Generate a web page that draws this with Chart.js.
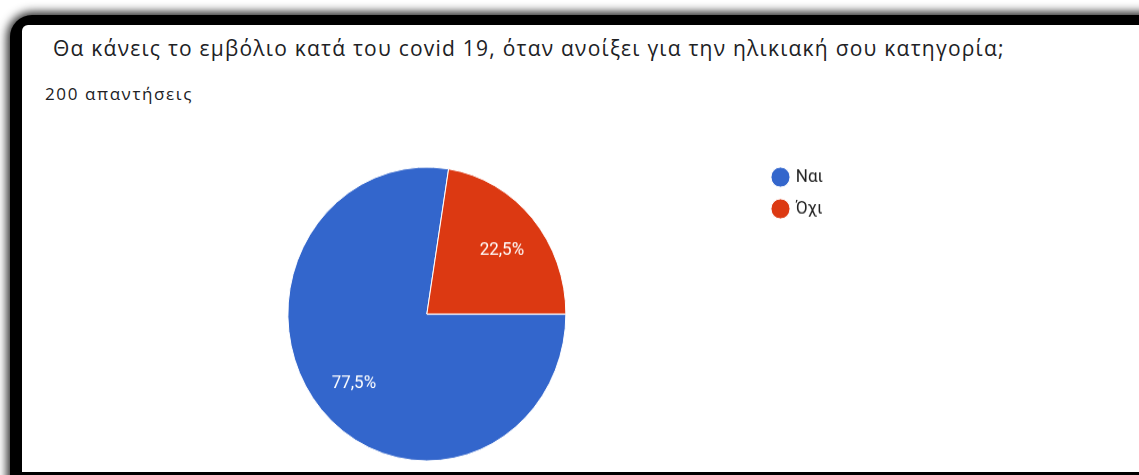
<!DOCTYPE html>
<html>
<head>
<meta charset="utf-8">
<script src="https://cdn.jsdelivr.net/npm/chart.js@4.4.1/dist/chart.umd.min.js"></script>
<style>
  html, body { margin: 0; padding: 0; width: 1139px; height: 475px; overflow: hidden; background: #fff; }
  #frame {
    position: absolute; left: 10px; top: 15px; width: 1200px; height: 520px;
    background: #000; border-radius: 22px 0 0 0;
    box-shadow: 0 0 10px 3px rgba(0,0,0,0.85);
  }
  #card {
    position: absolute; left: 22px; top: 25px; width: 1140px; height: 447px;
    background: #fff; border-top-left-radius: 6px;
  }
  .txt { position: absolute; white-space: nowrap; line-height: 1; font-family: "Open Sans", Roboto, sans-serif; }
  #title { left: 31px; top: 13px; font-size: 21px; color: #202124; }
  #sub { left: 23px; top: 60px; font-size: 17px; color: #202124; }
  #chart {
    position: absolute; left: 22px; top: 151px;
    transform: scaleY(1.057); transform-origin: 0 163px;
  }
</style>
</head>
<body>
<div id="frame"></div>
<div id="card">
  <div id="title" class="txt">Θα κάνεις το εμβόλιο κατά του covid 19, όταν ανοίξει για την ηλικιακή σου κατηγορία;</div>
  <div id="sub" class="txt">200 απαντήσεις</div>
</div>
<canvas id="chart" width="1117" height="330"></canvas>

<script>
// ── Data ──────────────────────────────────────────────────────────────────────
const answers = ['Ναι', 'Όχι'];
const counts  = [155, 45];
const colors  = ['#3366CC', '#DC3912'];

// ── Helpers ───────────────────────────────────────────────────────────────────
const $ = id => document.getElementById(id);
const fmtPct = n => n.toFixed(1).replace('.', ',') + '%';

// stretch a text line to the width it has in the screenshot
function fitWidth(el, target) {
  const w = el.getBoundingClientRect().width;
  const n = el.textContent.length;
  el.style.letterSpacing = ((target - w) / n).toFixed(2) + 'px';
}
fitWidth($('title'), 952);
fitWidth($('sub'), 148);

// percentage labels inside the slices
const sliceLabels = {
  id: 'sliceLabels',
  afterDatasetsDraw(chart) {
    const ctx = chart.ctx;
    const meta = chart.getDatasetMeta(0);
    const total = counts.reduce((a, b) => a + b, 0);
    ctx.save();
    ctx.font = '17px Roboto';
    ctx.fillStyle = '#fff';
    ctx.textAlign = 'center';
    ctx.textBaseline = 'middle';
    meta.data.forEach((arc, i) => {
      const p = arc.getProps(['x', 'y', 'startAngle', 'endAngle', 'outerRadius'], true);
      const mid = (p.startAngle + p.endAngle) / 2;
      const r = p.outerRadius * 0.7;
      ctx.fillText(fmtPct(counts[i] / total * 100), p.x + Math.cos(mid) * r + 1, p.y + Math.sin(mid) * r + 3);
    });
    ctx.restore();
  }
};

// ── Chart ─────────────────────────────────────────────────────────────────────
new Chart($('chart').getContext('2d'), {
  type: 'pie',
  data: {
    labels: answers,
    datasets: [{
      data: counts,
      backgroundColor: colors,
      borderColor: '#fff',
      borderWidth: 1,
      radius: 139
    }]
  },
  options: {
    responsive: false,
    animation: false,
    rotation: 90,
    layout: { padding: { left: 71, right: 306, top: 12, bottom: 16 } },
    plugins: {
      tooltip: { enabled: false },
      legend: {
        position: 'right',
        align: 'start',
        labels: {
          usePointStyle: true,
          pointStyle: 'circle',
          boxWidth: 13.5,
          boxHeight: 13.5,
          padding: 13,
          color: '#222',
          font: { family: 'Roboto', size: 17 }
        }
      }
    }
  },
  plugins: [sliceLabels]
});
</script>
</body>
</html>
